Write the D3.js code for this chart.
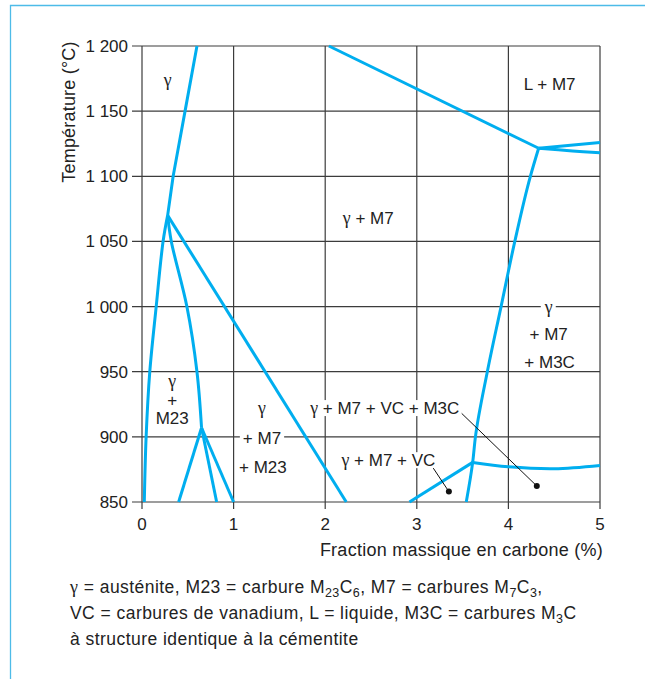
<!DOCTYPE html>
<html>
<head>
<meta charset="utf-8">
<script src="https://cdn.jsdelivr.net/npm/d3@7"></script>
<style>
  html, body { margin: 0; padding: 0; background: #fff; }
  svg { display: block; font-family: "Liberation Sans", Arial, sans-serif; }
</style>
</head>
<body>
<div id="chart"></div>
<script>
// axes
const xTicks = [0, 1, 2, 3, 4, 5];
const yTicks = [850, 900, 950, 1000, 1050, 1100, 1150, 1200];

// phase boundaries (carbon %, temperature °C)
const gammaLow = [[0.025, 850], [0.045, 900], [0.085, 950], [0.155, 1000], [0.23, 1050], [0.28, 1070]];
const gammaHigh = [[0.28, 1070], [0.34, 1100], [0.47, 1150], [0.60, 1200]];
const m23Solvus = [[0.65, 907], [0.60, 950], [0.49, 1000], [0.32, 1050], [0.28, 1070]];
const m23Low = [[0.815, 850], [0.65, 907]];
const m23Left = [[0.40, 850], [0.65, 907]];
const m23Right = [[1.0, 850], [0.65, 907]];
const m7Diag = [[0.28, 1070], [2.23, 850]];
const liquidus = [[2.04, 1200], [4.33, 1121.5]];
const liqUpper = [[4.33, 1121.5], [5.0, 1126]];
const liqLower = [[4.33, 1121.5], [4.7, 1119.5], [5.0, 1118]];
const m3cSolvus = [[3.54, 850], [3.61, 880.4], [3.64, 900], [3.77, 950], [3.92, 1000], [4.07, 1050], [4.24, 1100], [4.33, 1121.5]];
const vcLine = [[2.92, 850], [3.61, 880.4]];
const m3cLow = [[3.61, 880.4], [4.0, 877], [4.5, 875.5], [5.0, 878]];

// region labels
const labels = [
    { t: "γ", x: 0.28, y: 1169, box: false },
    { t: "L + M7", x: 4.45, y: 1166, box: false },
    { t: "γ + M7", x: 2.47, y: 1063, box: false },
    { t: "γ", x: 4.44, y: 995, box: true },
    { t: "+ M7", x: 4.44, y: 974.5, box: false },
    { t: "+ M3C", x: 4.45, y: 953, box: false },
    { t: "γ", x: 0.33, y: 938, box: false },
    { t: "+", x: 0.33, y: 923.5, box: false },
    { t: "M23", x: 0.33, y: 910, box: false },
    { t: "γ", x: 1.31, y: 917.5, box: false },
    { t: "+ M7", x: 1.31, y: 894.5, box: true },
    { t: "+ M23", x: 1.32, y: 872.5, box: true },
    { t: "γ + M7 + VC + M3C", x: 2.65, y: 917.5, box: true },
    { t: "γ + M7 + VC", x: 2.69, y: 877.5, box: true }
];

// leader lines: from label to dot
const leaders = [
    [[3.49, 918], [4.31, 862.3]],
    [[3.18, 876], [3.35, 858]]
];

// footnote lines ({sub} = subscript)
const notesText = [
    ["γ = austénite, M23 = carbure M", { sub: "23" }, "C", { sub: "6" }, ", M7 = carbures M", { sub: "7" }, "C", { sub: "3" }, ","],
    ["VC = carbures de vanadium, L = liquide, M3C = carbures M", { sub: "3" }, "C"],
    ["à structure identique à la cémentite"]
];

const W = 645, H = 679;
const blue = "#00aeef";
const gridColor = "#3c3c3c";
const textColor = "#222";
const greekFont = "'Liberation Serif', 'DejaVu Serif', serif";

const x = d3.scaleLinear().domain([0, 5]).range([142, 600]);
const y = d3.scaleLinear().domain([850, 1200]).range([502, 46]);

const svg = d3.select("#chart").append("svg")
    .attr("width", W)
    .attr("height", H);

// ecrit un texte, le γ en police serif
function addRich(t, str) {
    str.split(/(γ)/).forEach(s => {
        if (!s) return;
        const sp = t.append("tspan").text(s);
        if (s === "γ") sp.attr("font-family", greekFont).attr("font-size", "1.05em");
    });
}

// cadre bleu clair
svg.append("path")
    .attr("d", `M10.5,${H} V5.5 H${W}`)
    .attr("fill", "none")
    .attr("stroke", "#4dbbe8")
    .attr("stroke-width", 1.3);

// grille
const grid = svg.append("g");
grid.selectAll("line.v").data(xTicks).enter().append("line")
    .attr("x1", d => x(d)).attr("x2", d => x(d))
    .attr("y1", y(1200)).attr("y2", y(850) + 7)
    .attr("stroke", gridColor).attr("stroke-width", 1.2);
grid.selectAll("line.h").data(yTicks).enter().append("line")
    .attr("x1", x(0) - 10).attr("x2", x(5))
    .attr("y1", d => y(d)).attr("y2", d => y(d))
    .attr("stroke", gridColor).attr("stroke-width", 1.2);

// labels des graduations
const fmt = d3.formatLocale({ decimal: ",", thousands: " ", grouping: [3], currency: ["", ""] }).format(",");
svg.append("g").selectAll("text").data(xTicks).enter().append("text")
    .attr("x", d => x(d)).attr("y", 530)
    .attr("text-anchor", "middle")
    .attr("font-size", 17).attr("fill", textColor)
    .text(d => d);
svg.append("g").selectAll("text").data(yTicks).enter().append("text")
    .attr("x", 128).attr("y", d => y(d) + 6)
    .attr("text-anchor", "end")
    .attr("font-size", 17).attr("fill", textColor)
    .text(d => fmt(d));

// titres des axes
svg.append("text")
    .attr("transform", "translate(75,112) rotate(-90)")
    .attr("text-anchor", "middle")
    .attr("font-size", 18).attr("fill", textColor)
    .attr("letter-spacing", 0.2)
    .text("Température (°C)");
svg.append("text")
    .attr("x", 603).attr("y", 556)
    .attr("text-anchor", "end")
    .attr("font-size", 18).attr("fill", textColor)
    .attr("letter-spacing", 0.25)
    .text("Fraction massique en carbone (%)");

// étiquettes des domaines (fond blanc pour couper la grille)
const lab = svg.append("g");
labels.forEach(l => {
    const t = lab.append("text")
        .attr("x", x(l.x)).attr("y", y(l.y))
        .attr("text-anchor", "middle")
        .attr("font-size", 17).attr("fill", textColor);
    addRich(t, l.t);
    if (l.box) {
        const b = t.node().getBBox();
        lab.insert("rect", "text")
            .attr("x", b.x - 3).attr("y", b.y + 2)
            .attr("width", b.width + 6).attr("height", b.height - 4)
            .attr("fill", "#fff");
    }
});

// courbes
const line = d3.line().x(d => x(d[0])).y(d => y(d[1]));
const smoothY = d3.line().x(d => x(d[0])).y(d => y(d[1])).curve(d3.curveMonotoneY);
const smooth = d3.line().x(d => x(d[0])).y(d => y(d[1])).curve(d3.curveCatmullRom);

const curves = svg.append("g")
    .attr("fill", "none")
    .attr("stroke", blue)
    .attr("stroke-width", 3)
    .attr("stroke-linejoin", "round");

curves.append("path").attr("d", smooth(gammaLow));
curves.append("path").attr("d", line(gammaHigh));
curves.append("path").attr("d", smooth(m23Solvus));
curves.append("path").attr("d", line(m23Low));
curves.append("path").attr("d", line(m23Left));
curves.append("path").attr("d", line(m23Right));
curves.append("path").attr("d", line(m7Diag));
curves.append("path").attr("d", line(liquidus));
curves.append("path").attr("d", line(liqUpper));
curves.append("path").attr("d", smooth(liqLower));
curves.append("path").attr("d", smoothY(m3cSolvus));
curves.append("path").attr("d", line(vcLine));
curves.append("path").attr("d", smooth(m3cLow));

// traits de rappel
const lead = svg.append("g");
leaders.forEach(p => {
    lead.append("line")
        .attr("x1", x(p[0][0])).attr("y1", y(p[0][1]))
        .attr("x2", x(p[1][0])).attr("y2", y(p[1][1]))
        .attr("stroke", "#111").attr("stroke-width", 1);
    lead.append("circle")
        .attr("cx", x(p[1][0])).attr("cy", y(p[1][1]))
        .attr("r", 3).attr("fill", "#111");
});

// légende en bas
const notes = svg.append("g")
    .attr("font-size", 17.5).attr("fill", textColor)
    .attr("letter-spacing", 0.45);
notesText.forEach((parts, i) => {
    const t = notes.append("text").attr("x", 70).attr("y", 593 + i * 26);
    let shifted = false;
    parts.forEach(p => {
        if (typeof p === "string") {
            const start = t.append("tspan");
            if (shifted) start.attr("dy", -4);
            shifted = false;
            // texte normal, γ en serif
            p.split(/(γ)/).forEach((s, k) => {
                if (!s) return;
                const sp = k === 0 ? start.text(s) : t.append("tspan").text(s);
                if (s === "γ") sp.attr("font-family", greekFont).attr("font-size", 18);
            });
        } else {
            t.append("tspan").attr("font-size", 12.5).attr("dy", shifted ? 0 : 4).text(p.sub);
            shifted = true;
        }
    });
});
</script>
</body>
</html>
